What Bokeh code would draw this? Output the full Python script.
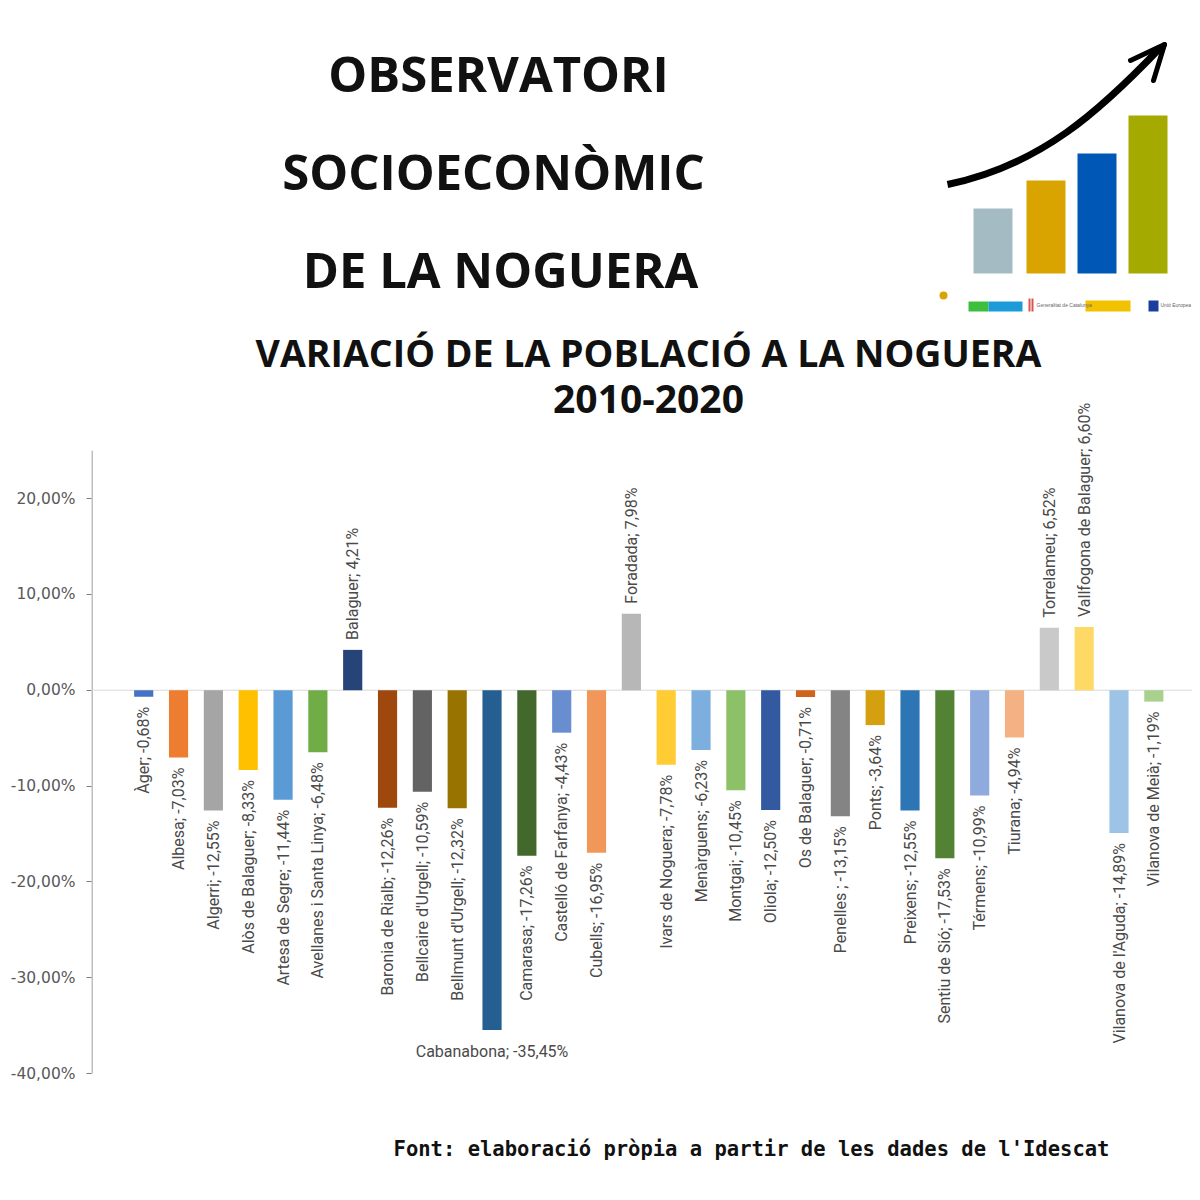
import math
from bokeh.plotting import figure
from bokeh.models import Range1d, FixedTicker, ColumnDataSource
from bokeh.embed import file_html
from bokeh.resources import INLINE
from bokeh.core.properties import value

# ---------------- data ----------------
municipis = ["Àger", "Albesa", "Algerri", "Alòs de Balaguer", "Artesa de Segre",
             "Avellanes i Santa Linya", "Balaguer", "Baronia de Rialb", "Bellcaire d'Urgell",
             "Bellmunt d'Urgell", "Cabanabona", "Camarasa", "Castelló de Farfanya", "Cubells",
             "Foradada", "Ivars de Noguera", "Menàrguens", "Montgai", "Oliola", "Os de Balaguer",
             "Penelles ", "Ponts", "Preixens", "Sentiu de Sió", "Térmens", "Tiurana",
             "Torrelameu", "Vallfogona de Balaguer", "Vilanova de l'Aguda", "Vilanova de Meià"]
variacio = [-0.68, -7.03, -12.55, -8.33, -11.44, -6.48, 4.21, -12.26, -10.59, -12.32,
            -35.45, -17.26, -4.43, -16.95, 7.98, -7.78, -6.23, -10.45, -12.50, -0.71,
            -13.15, -3.64, -12.55, -17.53, -10.99, -4.94, 6.52, 6.60, -14.89, -1.19]
colors = ["#4472C4", "#ED7D31", "#A5A5A5", "#FFC000", "#5B9BD5", "#70AD47", "#264478",
          "#9E480E", "#636363", "#997300", "#255E91", "#43682B", "#698ED0", "#F1975A",
          "#B7B7B7", "#FFCD33", "#7CAFDD", "#8CC168", "#335AA1", "#D0631C", "#848484",
          "#D4A010", "#2E75B6", "#548235", "#8FAADC", "#F4B183", "#C9C9C9", "#FFD966",
          "#9DC3E6", "#A9D18E"]
tick_vals = [20, 10, 0, -10, -20, -30, -40]
tick_labels = ["20,00%", "10,00%", "0,00%", "-10,00%", "-20,00%", "-30,00%", "-40,00%"]

title_lines = ["OBSERVATORI", "SOCIOECONÒMIC", "DE LA NOGUERA"]
subtitle_lines = ["VARIACIÓ DE LA POBLACIÓ A LA NOGUERA", "2010-2020"]
footer = "Font: elaboració pròpia a partir de les dades de l'Idescat"

# logo (decoration)
logo_heights = [65, 93, 120, 158]
logo_colors = ["#A5BBC3", "#D9A400", "#0057B5", "#A4AA00"]


def fmt(v):
    return f"{v:.2f}".replace(".", ",") + "%"


labels = [f"{n}; {fmt(v)}" for n, v in zip(municipis, variacio)]
xs = list(range(len(municipis)))

# ---------------- figure ----------------
X0, X1 = -1.499, 30.11
p = figure(width=1192, height=1192, output_backend="svg", toolbar_location=None,
           x_range=Range1d(X0, X1), y_range=Range1d(-52.41, 71.97),
           x_axis_location=None, y_axis_location="left",
           min_border_left=91, min_border_right=0, min_border_top=0, min_border_bottom=0)
p.outline_line_color = None
p.xgrid.visible = False
p.ygrid.visible = False
p.background_fill_color = "white"
p.border_fill_color = "white"
p.extra_x_ranges = {"px": Range1d(91, 1192)}
p.extra_y_ranges = {"px": Range1d(1192, 0)}

ax = p.yaxis[0]
ax.ticker = FixedTicker(ticks=tick_vals)
ax.major_label_overrides = {v: l for v, l in zip(tick_vals, tick_labels)}
ax.axis_line_color = None
ax.major_tick_line_color = "#7F7F7F"
ax.major_tick_out = 5
ax.major_tick_in = 0
ax.minor_tick_line_color = None
ax.major_label_standoff = 11
ax.major_label_text_font = "DejaVu Sans"
ax.major_label_text_font_size = "15.5px"
ax.major_label_text_color = "#595959"

# axis line from -40% to 25%
p.segment(x0=[91.5], x1=[91.5], y0=[min(tick_vals)], y1=[25], x_range_name="px",
          line_color="#7F7F7F", line_width=1)
# zero line
p.segment(x0=[X0], x1=[X1], y0=[0], y1=[0], line_color="#D9D9D9", line_width=1)

src = ColumnDataSource(dict(x=xs, v=variacio, c=colors, t=labels))
p.vbar(x="x", top="v", bottom=0, width=0.55, fill_color="c", line_color=None, source=src)

imin = variacio.index(min(variacio))
neg = [i for i, v in enumerate(variacio) if v < 0 and i != imin]
pos = [i for i, v in enumerate(variacio) if v >= 0]

lab_font = value("Roboto")
lab_size = "16px"
lab_color = "#4A4A4A"
neg_src = ColumnDataSource(dict(x=[xs[i] for i in neg], y=[variacio[i] for i in neg],
                                t=[labels[i] for i in neg]))
p.text(x="x", y="y", text="t", source=neg_src, angle=math.pi / 2, text_align="right",
       text_baseline="middle", y_offset=10, text_font=lab_font, text_font_size=lab_size,
       text_color=lab_color)
pos_src = ColumnDataSource(dict(x=[xs[i] for i in pos], y=[variacio[i] for i in pos],
                                t=[labels[i] for i in pos]))
p.text(x="x", y="y", text="t", source=pos_src, angle=math.pi / 2, text_align="left",
       text_baseline="middle", y_offset=-10, text_font=lab_font, text_font_size=lab_size,
       text_color=lab_color)
p.text(x=[xs[imin]], y=[variacio[imin]], text=[labels[imin]], text_align="center",
       text_baseline="top", y_offset=12, text_font=lab_font, text_font_size=lab_size,
       text_color=lab_color)

# ---------------- header (pixel ranges) ----------------
hdr = dict(x_range_name="px", y_range_name="px")
p.text(x=[498, 493, 500], y=[72, 170, 268], text=title_lines, text_align="center",
       text_baseline="middle", text_font=value("Open Sans"), text_font_style="bold",
       text_font_size="49px", text_color="#111111", **hdr)
p.text(x=[648], y=[352], text=[subtitle_lines[0]], text_align="center",
       text_baseline="middle", text_font=value("Open Sans"), text_font_style="bold",
       text_font_size="37.5px", text_color="#111111", **hdr)
p.text(x=[648], y=[398], text=[subtitle_lines[1]], text_align="center",
       text_baseline="middle", text_font=value("Open Sans"), text_font_style="bold",
       text_font_size="39px", text_color="#111111", **hdr)
p.text(x=[751], y=[1148], text=[footer], text_align="center", text_baseline="middle",
       text_font=value("DejaVu Sans Mono"), text_font_style="bold", text_font_size="20.5px",
       text_color="#111111", **hdr)

# logo
lefts = [973, 1026, 1077, 1128]
p.quad(left=lefts, right=[l + 39 for l in lefts], bottom=[273] * 4,
       top=[273 - h for h in logo_heights], fill_color=logo_colors, line_color=None, **hdr)
p.bezier(x0=[947], y0=[184], x1=[1160], y1=[47], cx0=[1040], cy0=[165], cx1=[1100], cy1=[110],
         line_color="black", line_width=7, **hdr)
p.multi_line(xs=[[1130, 1164], [1153, 1164]], ys=[[60, 44], [80, 44]], line_color="black",
             line_width=5, line_cap="round", **hdr)
# sponsor strip
p.quad(left=[968, 988, 1028, 1031, 1085, 1148], right=[988, 1022, 1030, 1033, 1130, 1158],
       bottom=[311, 311, 311, 311, 311, 311], top=[301, 301, 298, 298, 300, 300],
       fill_color=["#3DBE3D", "#1C9BD8", "#D9534F", "#D9534F", "#F2C200", "#1A3E9E"],
       line_color=None, **hdr)
p.circle(x=[943], y=[295], radius=4, fill_color="#D8A400", line_color=None, **hdr)
p.text(x=[1036, 1160], y=[304, 304], text=["Generalitat de Catalunya", "Unió Europea"],
       text_font_size="5px", text_color="#666666", text_baseline="middle", **hdr)

open("out.html", "w").write(file_html(p, INLINE))
